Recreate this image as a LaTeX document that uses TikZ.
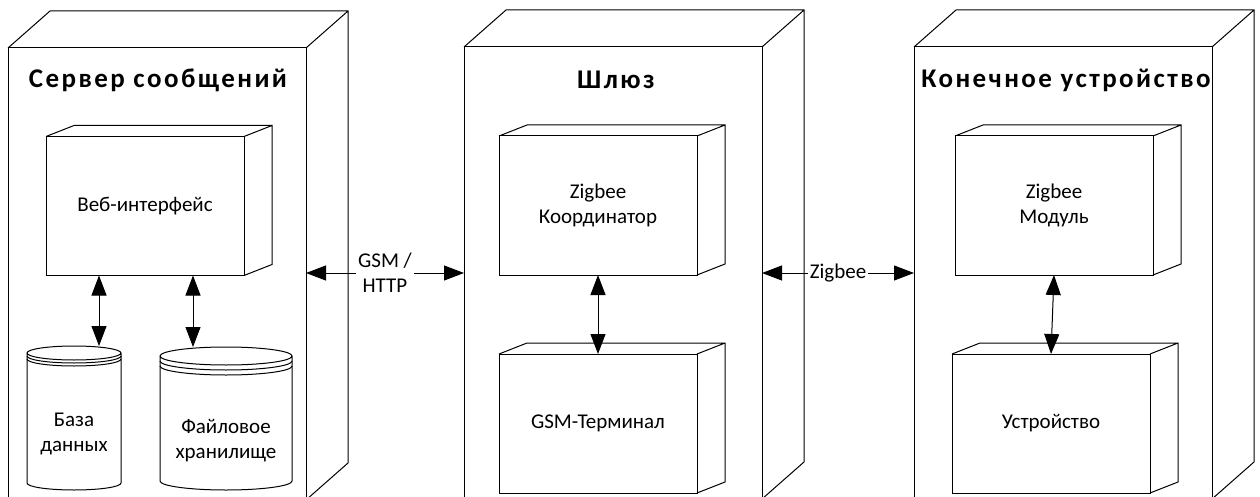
\documentclass[tikz,border=0pt]{standalone}
\usepackage{fontspec}
\setmainfont{Carlito}
\newfontfamily\titlefont[LetterSpace=9]{Carlito}
\usetikzlibrary{arrows.meta}

\begin{document}
\begin{tikzpicture}[x=1pt, y=-1pt, line width=1pt,
  outer/.style={draw, fill=white, outer sep=0pt, minimum width=298pt, minimum height=452pt},
  inner/.style={draw, fill=white, outer sep=0pt, minimum width=198pt, minimum height=139pt, align=center, font=\fontsize{21}{25}\selectfont},
  store/.style={outer sep=0pt, inner sep=0pt},
  title/.style={anchor=base, font=\titlefont\bfseries\fontsize{27}{30}\selectfont},
  txt/.style={align=center, font=\fontsize{21}{25}\selectfont},
  link/.style={{Triangle[length=20pt,width=15pt]}-{Triangle[length=20pt,width=15pt]}},
  lbl/.style={txt, fill=white, inner sep=2pt}]
\useasboundingbox (0,0) rectangle (1260,497);

% outer nodes
\node[outer] (srv) at (157,274) {};
\node[outer] (gw) at (613,273) {};
\node[outer] (dev) at (1063,273) {};
\foreach \n in {srv,gw,dev}
    \draw (\n.north west) -- ++(42,-37) -| ([shift={(42,-37)}]\n.south east) -- (\n.south east)
          (\n.north east) -- ++(42,-37);
\node[title] (srvname) at (158,88) {Сервер сообщений};
\node[title] (gwname) at (616,89) {Шлюз};
\node[title] (devname) at (1066,88) {Конечное устройство};

% inner nodes
\node[inner] (web) at (145,206) {Веб-интерфейс};
\node[inner] (coord) at (598,205.5) {Zigbee\\Координатор};
\node[inner] (gsm) at (598,423.5) {GSM-Терминал};
\node[inner] (modul) at (1054,205.5) {Zigbee\\Модуль};
\node[inner] (thing) at (1051,423.5) {Устройство};
\foreach \n in {web,coord,gsm,modul,thing}
    \draw (\n.north west) -- ++(28,-11) -| ([shift={(28,-11)}]\n.south east) -- (\n.south east)
          (\n.north east) -- ++(28,-11);

% storages
\node[store, minimum width=94pt, minimum height=144pt] (db) at (74,418) {};
\node[store, minimum width=132pt, minimum height=143pt] (files) at (226,418.5) {};
\foreach \n/\rx/\ry/\s in {db/47/7/3, files/66/9/5} {
    \draw[fill=white] ([shift={(0,\ry)}]\n.north west) -- ([shift={(0,-\ry)}]\n.south west)
        arc[start angle=180, end angle=360, x radius=\rx pt, y radius=\ry pt]
        -- ([shift={(0,\ry)}]\n.north east)
        arc[start angle=0, end angle=180, x radius=\rx pt, y radius=\ry pt]
        arc[start angle=180, end angle=360, x radius=\rx pt, y radius=\ry pt];
    \foreach \k in {1,2}
        \draw ([shift={(0,\ry+\k*\s)}]\n.north west)
            arc[start angle=180, end angle=360, x radius=\rx pt, y radius=\ry pt];
}
\node[txt] (dbname) at ([shift={(0,16)}]db.center) {База\\данных};
\node[txt] (filesname) at ([shift={(0,22)}]files.center) {Файловое\\хранилище};

% links
\draw[link] ([xshift=-46pt]web.south) -- ([xshift=25pt]db.north);
\draw[link] ([xshift=48pt]web.south) -- ([xshift=-33pt]files.north);
\draw[link] (coord.south) -- (gsm.north);
\draw[link] (modul.south) -- (thing.north);
\draw[link] (srv.east |- gw.west) -- node[lbl] (gsmhttp) {GSM /\\HTTP} (gw.west);
\draw[link] (gw.east) -- node[lbl] (zb) {Zigbee} (dev.west);
\end{tikzpicture}
\end{document}
